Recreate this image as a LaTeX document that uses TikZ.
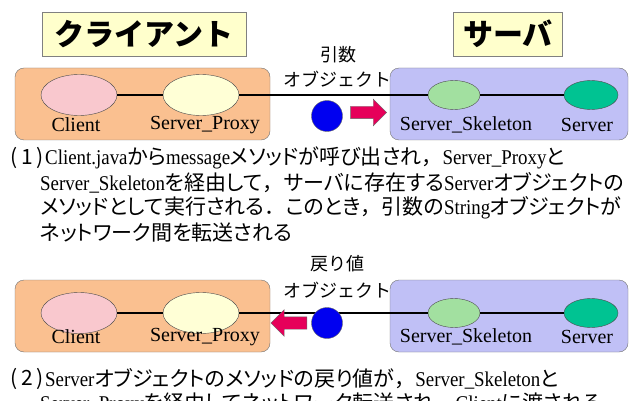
\documentclass[tikz,border=0pt]{standalone}
\usepackage{fontspec}
\setmainfont{Liberation Serif}
\newfontfamily\jp{Noto Sans CJK JP}
\newfontfamily\jpp[RawFeature=+palt]{Noto Sans CJK JP}
\newfontfamily\narrowrm[FakeStretch=0.9]{Liberation Serif}
\usetikzlibrary{shapes.geometric,shapes.arrows}

\definecolor{headfill}{HTML}{FFFFCC}
\definecolor{clientfill}{HTML}{FAC090}
\definecolor{serverfill}{HTML}{C0C0F6}
\definecolor{clientobj}{HTML}{F9C8CE}
\definecolor{proxyobj}{HTML}{FFFFD6}
\definecolor{skelobj}{HTML}{A2E0A0}
\definecolor{serverobj}{HTML}{00C392}
\definecolor{argball}{HTML}{0000F0}
\definecolor{movefill}{HTML}{E6005A}

% latin words and full-width punctuation inside the notes
\newcommand{\en}[1]{{\narrowrm #1}}
\newcommand{\tou}{{\jp ，}}
\newcommand{\kuten}{{\jp ．}}

\tikzset{
  headbox/.style={draw=gray, fill=headfill, inner sep=0pt, minimum height=44pt,
    font=\jp\bfseries\fontsize{30}{30}\selectfont},
  panel/.style={draw=black!55, rounded corners=9pt, minimum height=72pt, inner sep=0pt},
  obj/.style={ellipse, draw=black!70, inner sep=0pt},
  lbl/.style={font=\fontsize{20}{20}\selectfont, inner sep=0pt},
  wire/.style={line width=2.6pt},
  ball/.style={circle, draw=black!60, fill=argball, minimum size=31pt, inner sep=0pt},
  movearrow/.style={single arrow, draw=black!60, fill=movefill, minimum width=25pt,
    minimum height=36pt, inner sep=6pt},
  objcap/.style={font=\jp\fontsize{18}{18}\selectfont, inner sep=0pt},
  bodytext/.style={font=\jpp\fontsize{21}{25}\selectfont, anchor=west, inner sep=0pt},
}

\begin{document}
\begin{tikzpicture}[x=1pt,y=-1pt]
  \useasboundingbox (0,0) rectangle (637,401);
  \clip (0,0) rectangle (637,401);

  \node[headbox, minimum width=204pt] (cltitle) at (144,34) {クライアント};
  \node[headbox, minimum width=109pt] (svtitle) at (508,34) {サーバ};

  \foreach \p/\yo/\ey in {1/0/95, 2/212/101} {
    \begin{scope}[shift={(0,\yo)}]
      \node[panel, fill=clientfill, minimum width=255pt] (cpanel\p) at (142.5,104) {};
      \node[panel, fill=serverfill, minimum width=238pt] (spanel\p) at (509,104) {};

      \node[obj, fill=clientobj, minimum width=76pt, minimum height=41pt] (cli\p) at (79,\ey) {};
      \node[obj, fill=proxyobj, minimum width=76pt, minimum height=41pt] (prx\p) at (201,\ey) {};
      \node[obj, fill=skelobj, minimum width=52pt, minimum height=29pt] (skl\p) at (454,\ey) {};
      \node[obj, fill=serverobj, minimum width=54pt, minimum height=29pt] (srv\p) at (591,\ey) {};

      \draw[wire] (cli\p) -- (prx\p);
      \draw[wire] (prx\p) -- (skl\p);
      \draw[wire] (skl\p) -- (srv\p);

      \node[lbl] (clilbl\p) at (76,125) {Client};
      \node[lbl] (prxlbl\p) at (205,125) {Server\_Proxy};
      \node[lbl] (skllbl\p) at (466,125) {Server\_Skeleton};
      \node[lbl] (srvlbl\p) at (587,125) {Server};
    \end{scope}
  }

  \node[objcap] (argname) at (338,55) {引数};
  \node[objcap] (argobj) at (337,79) {オブジェクト};
  \node[ball] (arg) at (327,116) {};
  \node[movearrow] (argmove) at (365.5,112.5) {};

  \node[objcap] (retname) at (337,264) {戻り値};
  \node[objcap] (retobj) at (337,290) {オブジェクト};
  \node[ball] (ret) at (327,323) {};
  \node[movearrow, shape border rotate=180] (retmove) at (292,323) {};

  \node[bodytext, anchor=center] (num1) at (27,158) {(\,1\,)};
  \node[bodytext] (step1a) at (45,158) {\en{Client.java}から\en{message}メソッドが呼び出され\tou\en{Server\_Proxy}と};
  \node[bodytext] (step1b) at (40,183) {\en{Server\_Skeleton}を経由して\tou サーバに存在する\en{Server}オブジェクトの};
  \node[bodytext] (step1c) at (40,208) {メソッドとして実行される\kuten このとき\tou 引数の\en{String}オブジェクトが};
  \node[bodytext] (step1d) at (40,233) {ネットワーク間を転送される};

  \node[bodytext, anchor=center] (num2) at (27,379) {(\,2\,)};
  \node[bodytext] (step2a) at (45,379) {\en{Server}オブジェクトのメソッドの戻り値が\tou\en{Server\_Skeleton}と};
  \node[bodytext] (step2b) at (40,404) {\en{Server\_Proxy}を経由してネットワーク転送され\tou\en{Client}に渡される};
\end{tikzpicture}
\end{document}
